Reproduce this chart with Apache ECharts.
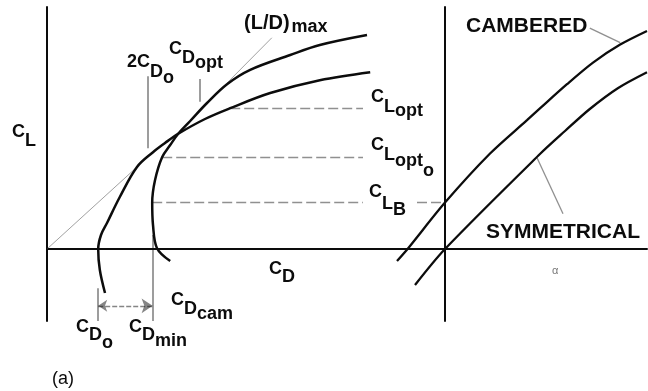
<!DOCTYPE html>
<html lang="en">
<head>
<meta charset="UTF-8">
<title>Drag polar and lift curve</title>
<script src="https://cdn.jsdelivr.net/npm/echarts@6/dist/echarts.min.js"></script>
<style>
    html, body { margin: 0; padding: 0; background: #fff; }
    #main { width: 648px; height: 391px; }
</style>
</head>
<body>
<div id="main"></div>
<script type="text/javascript">
    // left panel: C_D (x) against C_L (y), schematic units
    var camberedPolar = [[3.08,-0.30],[2.75,0.02],[2.65,0.60],[2.63,1.16],[2.70,1.72],[2.88,2.30],[3.08,2.60],[3.28,2.88],
                         [3.58,3.20],[4.00,3.65],[4.50,4.12],[5.08,4.48],[6.08,4.85],[6.82,5.10],[8.00,5.35]];
    var symmetricalPolar = [[1.45,-1.10],[1.32,-0.52],[1.28,0],[1.35,0.35],[1.50,0.65],[1.82,1.30],[2.25,2.05],[2.65,2.42],
                            [2.95,2.65],[3.28,2.88],[3.95,3.25],[4.58,3.52],[5.58,3.90],[6.82,4.22],[8.08,4.42]];
    // tangent from the origin, (L/D)max
    var tangentParts = [[[0,0],[2.25,2.05]], [[4.50,4.15],[5.62,5.28]]];
    // short vertical ticks: 2CDo, CDopt, CDo, CDmin
    var dragTicks = [[[2.52,4.32],[2.52,2.52]], [[3.82,4.25],[3.82,3.68]], [[1.28,-0.98],[1.28,-1.8]], [[2.64,0.35],[2.64,-1.8]]];
    var camberArrow = [[1.28,-1.42],[2.64,-1.42]];
    // C_Lopt, C_Lopto, C_LB levels
    var clLevels = [[[4.58,3.52],[7.90,3.52]], [[2.88,2.30],[7.90,2.30]], [[2.63,1.16],[7.90,1.16]]];

    // right panel: alpha (x) against C_L (y)
    var camberedLift = [[-1.20,-0.30],[-0.92,0.02],[0,1.16],[1.12,2.38],[2.05,3.22],[2.38,3.52],[3.05,4.12],[3.70,4.66],[4.38,5.11],[5.05,5.45]];
    var symmetricalLift = [[-0.75,-0.90],[0,0],[2.38,2.38],[3.00,2.95],[3.62,3.50],[4.32,4.02],[5.05,4.42]];
    var clbLevel = [[[-0.70,1.16],[0,1.16]]];
    var liftLeaders = [[[3.62,5.52],[4.38,5.16]], [[2.30,2.28],[2.95,0.88]]];

    // texts [x, y, text]
    var dragNotes = [
        [-0.875, 3.16, '{p0|C}{p9|L}'],
        [2.00, 4.91, '{p0|2C}{p10|D}{p16|o}'],
        [3.05, 5.235, '{p0|C}{p9|D}{p14|opt}'],
        [4.925, 5.90, '{w|(L/D)}{p5|max}'],
        [8.10, 4.035, '{p0|C}{p10|L}{p14|opt}'],
        [8.10, 2.835, '{p0|C}{p10|L}{p16|opt}{p26|o}'],
        [8.05, 1.66, '{p0|C}{p12|L}{p18|B}'],
        [5.55, -0.265, '{p0|C}{p8|D}'],
        [3.10, -1.04, '{p0|C}{p9|D}{p14|cam}'],
        [0.725, -1.715, '{p0|C}{p8|D}{p16|o}'],
        [2.05, -1.715, '{p0|C}{p8|D}{p14|min}'],
        [0.125, -3.03, '{a|(a)}']
    ];
    var liftNotes = [
        [0.525, 5.825, '{big|CAMBERED}'],
        [1.025, 0.675, '{big|SYMMETRICAL}'],
        [2.675, -0.40, '{sm|α}']
    ];

    var ink = '#0c0c0c';
    var FONT = '"Liberation Sans", Arial, sans-serif';

    function sub(t) {
        return { fontSize: 18, fontWeight: 'bold', fontFamily: FONT, color: ink, verticalAlign: 'top', padding: [t, 0, 0, 0] };
    }
    var rich = {
        p0: sub(0), p5: sub(5), p8: sub(8), p9: sub(9), p10: sub(10), p12: sub(12),
        p14: sub(14), p16: sub(16), p18: sub(18), p26: sub(26),
        w: { fontSize: 20, fontWeight: 'bold', fontFamily: FONT, color: ink, verticalAlign: 'top', padding: [0, 2, 0, 0] },
        big: { fontSize: 21, fontWeight: 'bold', fontFamily: FONT, color: ink, verticalAlign: 'top' },
        a: { fontSize: 18, fontFamily: FONT, color: ink, verticalAlign: 'top' },
        sm: { fontSize: 11, fontFamily: FONT, color: '#777', verticalAlign: 'top' }
    };

    function curve(data, gi, width, color, smooth) {
        return {
            type: 'line', xAxisIndex: gi, yAxisIndex: gi, data: data, showSymbol: false, symbol: 'none',
            smooth: smooth, clip: false, silent: true,
            lineStyle: { width: width, color: color }
        };
    }
    function segs(list, gi, style, symbol) {
        return {
            type: 'lines', coordinateSystem: 'cartesian2d', xAxisIndex: gi, yAxisIndex: gi, silent: true,
            symbol: symbol || 'none', symbolSize: [9, 11],
            lineStyle: style,
            data: list.map(function (c) { return { coords: c }; })
        };
    }
    function notes(list, gi) {
        return {
            type: 'scatter', xAxisIndex: gi, yAxisIndex: gi, symbolSize: 1, clip: false, silent: true,
            itemStyle: { color: 'rgba(0,0,0,0)' },
            label: { show: true, position: 'inside', align: 'left', verticalAlign: 'top', rich: rich,
                     color: ink, textBorderWidth: 0, opacity: 1,
                     formatter: function (p) { return list[p.dataIndex][2]; } },
            data: list.map(function (n) { return [n[0], n[1]]; })
        };
    }

    var axisHidden = { axisTick: { show: false }, axisLabel: { show: false }, splitLine: { show: false } };
    var strong = { show: true, onZero: true, lineStyle: { color: ink, width: 2 } };
    var dashed = { color: '#222', width: 1.3, type: [10, 4] };

    var chart = echarts.init(document.getElementById('main'));
    chart.setOption({
        animation: false,
        backgroundColor: '#fff',
        grid: [
            { left: 47, top: 7, width: 600, height: 314, outerBoundsMode: 'none' },
            { left: 385, top: 7, width: 263, height: 314, outerBoundsMode: 'none' }
        ],
        xAxis: [
            Object.assign({ type: 'value', gridIndex: 0, min: 0, max: 15, axisLine: strong }, axisHidden),
            Object.assign({ type: 'value', gridIndex: 1, min: -1.5, max: 5.075, axisLine: { show: false } }, axisHidden)
        ],
        yAxis: [
            Object.assign({ type: 'value', gridIndex: 0, min: -1.8, max: 6.05, axisLine: strong }, axisHidden),
            Object.assign({ type: 'value', gridIndex: 1, min: -1.8, max: 6.05, axisLine: strong }, axisHidden)
        ],
        series: [
            segs(tangentParts, 0, { color: '#444', width: 1 }),
            curve(camberedPolar, 0, 2.5, ink, 0.35),
            curve(symmetricalPolar, 0, 2.5, ink, 0.35),
            segs(dragTicks, 0, { color: ink, width: 1.6 }),
            segs([camberArrow], 0, { color: ink, width: 1.3, type: [5, 2] }, ['arrow', 'arrow']),
            segs(clLevels, 0, dashed),
            curve(camberedLift, 1, 2.3, ink, 0.3),
            curve(symmetricalLift, 1, 2.3, ink, 0.3),
            segs(clbLevel, 1, dashed),
            segs(liftLeaders, 1, { color: '#222', width: 1.3 }),
            notes(dragNotes, 0),
            notes(liftNotes, 1)
        ]
    });
</script>
</body>
</html>
